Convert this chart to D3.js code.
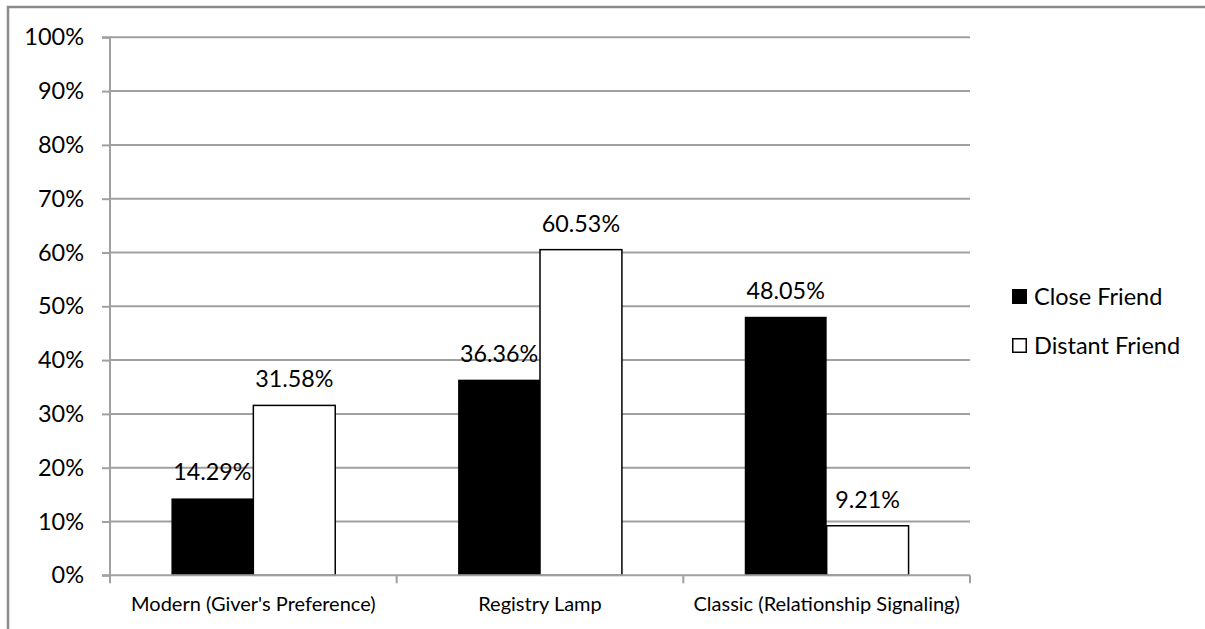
<!DOCTYPE html>
<html><head><meta charset="utf-8">
<script src="https://cdn.jsdelivr.net/npm/d3@7"></script>
<style>html,body{margin:0;padding:0;background:#fff;}svg{display:block;}</style>
</head><body>
<svg id="chart" width="1205" height="629"></svg>
<script>
const categories = ["Modern (Giver's Preference)", "Registry Lamp", "Classic (Relationship Signaling)"];
const seriesNames = ["Close Friend", "Distant Friend"];
const closeFriend = [14.29, 36.36, 48.05];
const distantFriend = [31.58, 60.53, 9.21];
const yTicks = [0,10,20,30,40,50,60,70,80,90,100];

const svg = d3.select("#chart");
const FONT = "Lato, 'Open Sans', sans-serif";
const grid = "#a0a0a0";

// outer border
svg.append("rect").attr("x",8).attr("y",7).attr("width",1210).attr("height",640)
  .attr("fill","none").attr("stroke","#8c8c8c").attr("stroke-width",2.5);

const x0 = 110, x1 = 970, yTop = 37.3, yBot = 575.3;
const x = d3.scaleBand().domain(categories).range([x0,x1]).paddingInner(0).paddingOuter(0);
const y = d3.scaleLinear().domain([0,100]).range([yBot,yTop]);
const bw = x.bandwidth()/3.5;
const xs = d3.scaleBand().domain(seriesNames).range([0, 2*bw]);

// gridlines
svg.append("g").selectAll("line").data(yTicks.filter(d=>d>0)).join("line")
  .attr("x1",x0).attr("x2",x1).attr("y1",d=>y(d)).attr("y2",d=>y(d))
  .attr("stroke",grid).attr("stroke-width",2);

// y axis
const yAxis = svg.append("g").attr("transform",`translate(${x0},0)`)
  .call(d3.axisLeft(y).tickValues(yTicks).tickFormat(d=>d+"%").tickSize(8).tickPadding(18));
yAxis.select(".domain").attr("stroke",grid).attr("stroke-width",2).attr("d",`M-8,${yTop}H0V${yBot}H-8`);
yAxis.selectAll(".tick line").attr("stroke",grid).attr("stroke-width",2);
yAxis.selectAll(".tick text").attr("font-family",FONT).attr("font-size",23.5).attr("fill","#000");

const data = categories.map((c,i)=>({cat:c, vals:[{s:seriesNames[0],v:closeFriend[i]},{s:seriesNames[1],v:distantFriend[i]}]}));
const g = svg.append("g");
const groups = g.selectAll("g").data(data).join("g")
  .attr("transform",d=>`translate(${x(d.cat)+ (x.bandwidth()-2*bw)/2},0)`);
groups.selectAll("rect").data(d=>d.vals).join("rect")
  .attr("x",d=>xs(d.s)).attr("width",bw)
  .attr("y",d=>y(d.v)).attr("height",d=>yBot-y(d.v))
  .attr("fill",d=>d.s===seriesNames[0]?"#000":"#fff")
  .attr("stroke","#000").attr("stroke-width",d=>d.s===seriesNames[0]?0:1.5);
groups.selectAll("text").data(d=>d.vals).join("text")
  .attr("x",d=>xs(d.s)+bw/2).attr("y",d=>y(d.v)-18)
  .attr("text-anchor","middle").attr("font-family",FONT).attr("font-size",23.3).attr("fill","#000")
  .text(d=>d.v.toFixed(2)+"%");

// x axis
const xAxis = svg.append("g").attr("transform",`translate(0,${yBot})`)
  .call(d3.axisBottom(x).tickSize(0).tickPadding(21.5));
xAxis.select(".domain").attr("stroke",grid).attr("stroke-width",2).attr("d",`M${x0},0H${x1}`);
xAxis.selectAll(".tick text").attr("font-family",FONT).attr("font-size",20).attr("fill","#000");
svg.append("g").selectAll("line").data([x0, ...categories.map(c=>x(c)+x.bandwidth())]).join("line")
  .attr("x1",d=>d).attr("x2",d=>d).attr("y1",yBot).attr("y2",yBot+8)
  .attr("stroke",grid).attr("stroke-width",2);

// legend
const leg = svg.append("g");
const ly = [289, 338];
seriesNames.forEach((s,i)=>{
  leg.append("rect").attr("x",i===0?1012:1012.75).attr("y",i===0?ly[i]:ly[i]+0.75)
    .attr("width",i===0?15:13.5).attr("height",i===0?15:13.5)
    .attr("fill",i===0?"#000":"#fff").attr("stroke","#000").attr("stroke-width",i===0?0:1.5);
  leg.append("text").attr("x",1034).attr("y",ly[i]+15.5).attr("font-family",FONT).attr("font-size",23.5)
    .attr("fill","#000").text(s);
});
</script>
</body></html>
